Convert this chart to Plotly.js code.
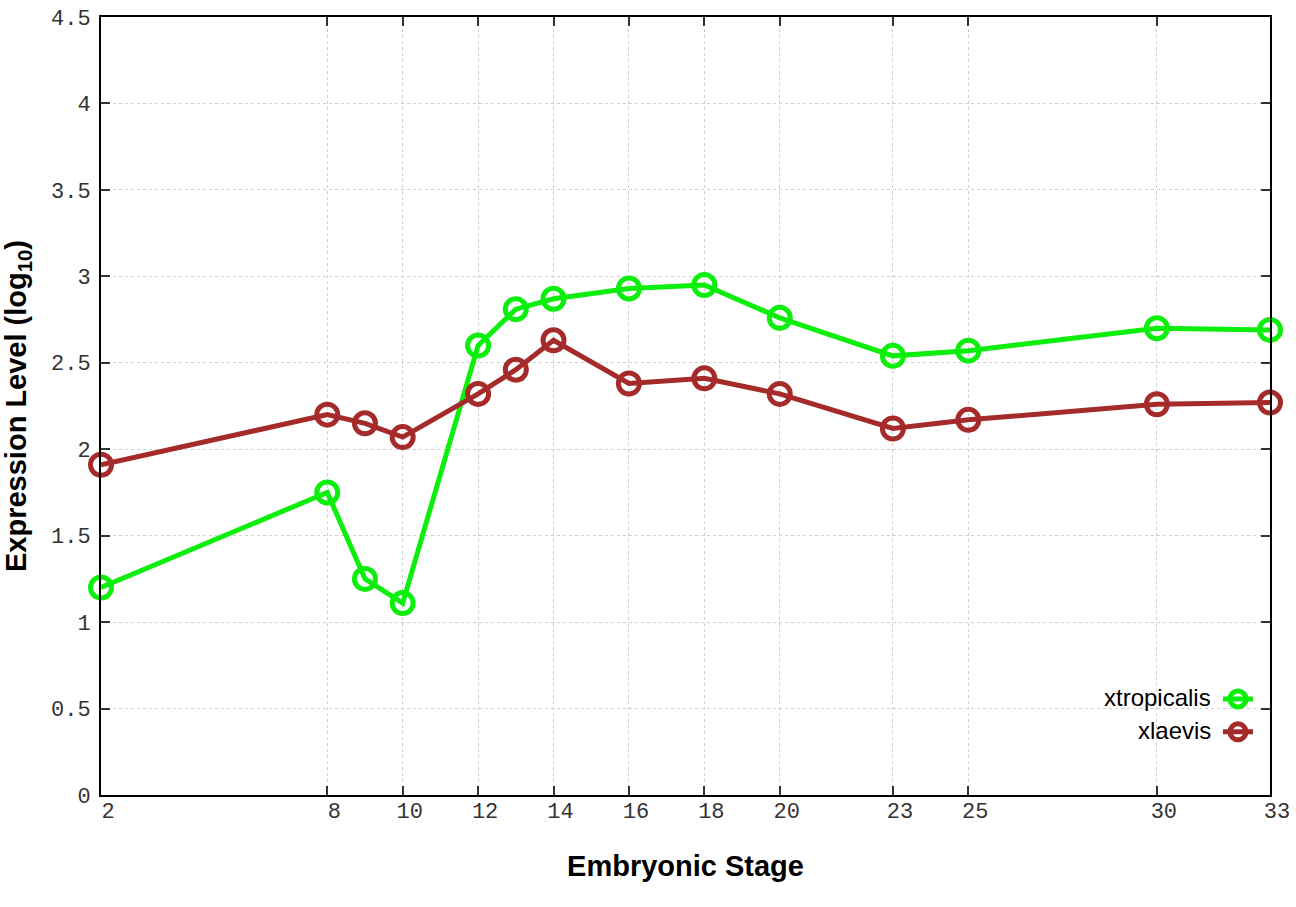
<!DOCTYPE html>
<html>
<head>
<meta charset="utf-8">
<script src="https://cdn.plot.ly/plotly-3.0.1.min.js"></script>
<style>html,body{margin:0;padding:0;background:#fff;}#chart{width:1296px;height:907px;}</style>
</head>
<body>
<div id="chart"></div>
<script>
const stages = [2, 8, 9, 10, 12, 13, 14, 16, 18, 20, 23, 25, 30, 33];
const xtropicalis = [1.20, 1.75, 1.25, 1.11, 2.60, 2.81, 2.87, 2.93, 2.95, 2.76, 2.54, 2.57, 2.70, 2.69];
const xlaevis = [1.91, 2.20, 2.15, 2.07, 2.32, 2.46, 2.63, 2.38, 2.41, 2.32, 2.12, 2.17, 2.26, 2.27];
const seriesNames = ['xtropicalis', 'xlaevis'];
const seriesColors = ['#0cee0c', '#a52a2a'];
const xTickVals = [2, 8, 10, 12, 14, 16, 18, 20, 23, 25, 30, 33];
const xTickText = ['2', '8', '10', '12', '14', '16', '18', '20', '23', '25', '30', '33'];
const yTickVals = [0, 0.5, 1, 1.5, 2, 2.5, 3, 3.5, 4, 4.5];
const yTickText = ['0', '0.5', '1', '1.5', '2', '2.5', '3', '3.5', '4', '4.5'];
const xTitle = 'Embryonic Stage';
const yTitle = 'Expression Level (log<sub>10</sub>)';

const seriesValues = [xtropicalis, xlaevis];
const traces = seriesValues.map((vals, i) => ({
  x: stages,
  y: vals,
  type: 'scatter',
  mode: 'lines+markers',
  name: '',
  hovertemplate: seriesNames[i] + ': %{y}<extra></extra>',
  cliponaxis: false,
  line: {color: seriesColors[i], width: 5},
  marker: {symbol: 'circle-open', size: 21, color: seriesColors[i], line: {width: 5, color: seriesColors[i]}}
}));

const axisCommon = {
  showline: true, linecolor: '#000', linewidth: 2, mirror: 'ticks',
  ticks: 'inside', ticklen: 9, tickwidth: 2, tickcolor: '#333',
  showgrid: true, gridcolor: '#cfcfcf', gridwidth: 1, griddash: 'dot',
  zeroline: false, automargin: false,
  tickfont: {family: 'Liberation Mono, Courier New, monospace', size: 22, color: '#333'}
};

const layout = {
  width: 1296, height: 907,
  paper_bgcolor: '#fff', plot_bgcolor: '#fff',
  margin: {l: 101, r: 26, t: 17, b: 112},
  showlegend: true,
  legend: {
    x: 0.9555, y: 0.151, xanchor: 'left', yanchor: 'top',
    bgcolor: 'rgba(0,0,0,0)', borderwidth: 0,
    font: {family: 'Liberation Sans, Arial, sans-serif', size: 23, color: '#000'},
    itemwidth: 30, tracegroupgap: 0
  },
  xaxis: Object.assign({}, axisCommon, {
    range: [2, 33], tickmode: 'array', tickvals: xTickVals, ticktext: xTickText,
    ticklabelstandoff: -5, ticklabelshift: 7,
    title: {text: xTitle, standoff: 31, font: {family: 'Liberation Sans, Arial, sans-serif', size: 29, color: '#000', weight: 'bold'}}
  }),
  yaxis: Object.assign({}, axisCommon, {
    range: [0, 4.5], tickmode: 'array', tickvals: yTickVals, ticktext: yTickText,
    ticklabelstandoff: 4,
    title: {text: yTitle, standoff: 18, font: {family: 'Liberation Sans, Arial, sans-serif', size: 29, color: '#000', weight: 'bold'}}
  }),
  shapes: [{
    type: 'rect', xref: 'paper', yref: 'paper', x0: 0.83, x1: 0.998, y0: 0.003, y1: 0.197,
    fillcolor: '#fff', line: {width: 0}, layer: 'between'
  }],
  annotations: seriesNames.map((n, i) => ({
    xref: 'paper', yref: 'paper', x: 0.9512, y: [0.1247, 0.0823][i],
    xanchor: 'right', yanchor: 'middle', showarrow: false, text: n,
    font: {family: 'Liberation Sans, Arial, sans-serif', size: 24, color: '#000'}
  }))
};

Plotly.newPlot('chart', traces, layout, {displayModeBar: false});
</script>
</body>
</html>
